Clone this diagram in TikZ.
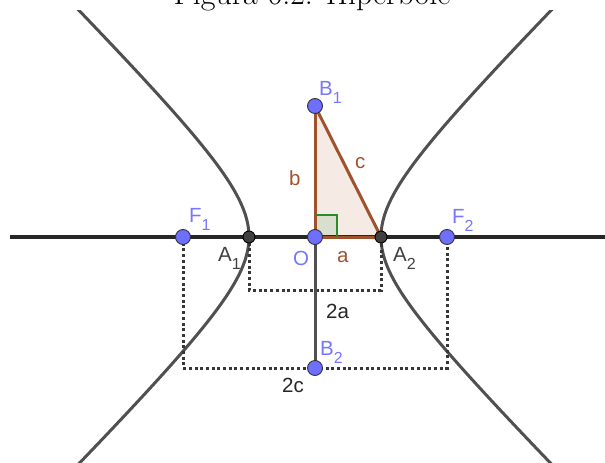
\documentclass[tikz,border=0pt]{standalone}
\usepackage{fontspec}
\newfontfamily\lab{Liberation Sans}
\definecolor{ptblue}{RGB}{110,110,255}
\definecolor{lblblue}{RGB}{118,118,255}
\definecolor{brn}{RGB}{160,82,45}
\definecolor{grn}{RGB}{40,140,40}
\definecolor{axisgray}{RGB}{38,38,38}
\definecolor{curvegray}{RGB}{80,80,80}
\definecolor{seggray}{RGB}{80,80,80}
\definecolor{dotgray}{RGB}{55,55,55}
\definecolor{trifill}{RGB}{245,234,228}
\definecolor{angfill}{RGB}{216,223,206}
\newcommand{\lsub}[1]{\raisebox{-8pt}{\fontsize{16}{16}\selectfont #1}}
\tikzset{
 bluept/.style={circle,fill=ptblue,draw=black!80,line width=0.9pt,inner sep=0pt,minimum size=15pt},
 darkpt/.style={circle,fill=black!75,draw=black,line width=0.9pt,inner sep=0pt,minimum size=12pt},
 lbl/.style={font=\lab\fontsize{20.5}{20.5}\selectfont,inner sep=0pt,anchor=base west},
 dottedline/.style={draw=dotgray,line width=3pt,dash pattern=on 3pt off 2.7pt},
 curve/.style={draw=curvegray,line width=3pt},
 axisline/.style={draw=axisgray,line width=3.2pt},
 brnline/.style={draw=brn,line width=3pt},
}
\begin{document}
\begin{tikzpicture}[x=1pt,y=-1pt]
\useasboundingbox (0,0) rectangle (605,463);
% title
\node[font=\fontsize{32}{32}\selectfont,anchor=base,inner sep=0pt] (title) at (312,5) {Figura 6.2: Hipérbole};
% coordinates of points
\coordinate (pO) at (315,237);
\coordinate (pA1) at (249,237);
\coordinate (pA2) at (381,237);
\coordinate (pF1) at (183,237);
\coordinate (pF2) at (447,237);
\coordinate (pB1) at (315,106);
\coordinate (pB2) at (315,368);
\coordinate (innerbottom) at (315,290);
\coordinate (axl) at (10,237);
\coordinate (axr) at (605,237);
% triangle fill
\fill[trifill] (pO) -- (pA2) -- (pB1) -- cycle;
% right angle
\fill[angfill] (315,237) rectangle (337,215);
% hyperbola
\begin{scope}
\clip (0,10) rectangle (605,463);
\draw[curve] plot[domain=-1.97:1.97,samples=90,smooth,variable=\t] ({315+66*cosh(\t)},{237-66*sinh(\t)});
\draw[curve] plot[domain=-1.97:1.97,samples=90,smooth,variable=\t] ({315-66*cosh(\t)},{237-66*sinh(\t)});
\end{scope}
% axis
\draw[axisline] (axl) -- (axr);
% dotted rectangles
\draw[dottedline] (pA1) |- (innerbottom) -| (pA2);
\draw[dottedline] (pF1) |- (pB2) -| (pF2);
% segment O-B2
\draw[draw=seggray,line width=3pt] (pO) -- (pB2);
% triangle edges
\draw[brnline] (pO) -- (pB1);
\draw[brnline] (pB1) -- (pA2);
\draw[brnline] (pO) -- (pA2);
\draw[grn,line width=2.4pt] (315,215) -- (337,215) -- (337,237);
% points
\node[bluept] (F1) at (pF1) {};
\node[bluept] (F2) at (pF2) {};
\node[bluept] (O) at (pO) {};
\node[bluept] (B1) at (pB1) {};
\node[bluept] (B2) at (pB2) {};
\node[darkpt] (A1) at (pA1) {};
\node[darkpt] (A2) at (pA2) {};
% labels
\node[lbl,text=lblblue] (lF1) at (189,222) {F\lsub{1}};
\node[lbl,text=lblblue] (lF2) at (452,223) {F\lsub{2}};
\node[lbl,text=lblblue] (lB1) at (319,95) {B\lsub{1}};
\node[lbl,text=lblblue] (lB2) at (320,355) {B\lsub{2}};
\node[lbl,text=lblblue] (lO) at (293,265) {O};
\node[lbl,text=black!75] (lA1) at (218,261) {A\lsub{1}};
\node[lbl,text=black!75] (lA2) at (393,261) {A\lsub{2}};
\node[lbl,text=brn] (la) at (337,262) {a};
\node[lbl,text=brn] (lb) at (289,185) {b};
\node[lbl,text=brn] (lc) at (355,168) {c};
\node[lbl,text=black!85] (l2a) at (326,318) {2a};
\node[lbl,text=black!85] (l2c) at (282,392) {2c};
\end{tikzpicture}
\end{document}
